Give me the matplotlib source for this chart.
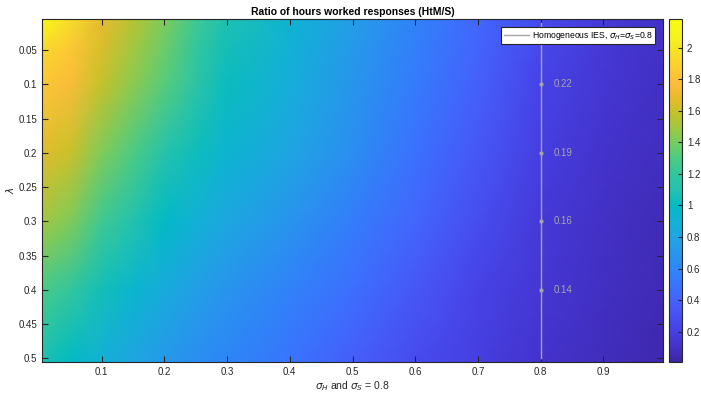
import numpy as np
import matplotlib.pyplot as plt
from matplotlib.colors import LinearSegmentedColormap

plt.rcParams['font.family'] = ['Liberation Sans', 'DejaVu Sans']

sigma_h = [0.005, 0.05, 0.1, 0.15, 0.2, 0.25, 0.3, 0.4, 0.5, 0.6, 0.7, 0.8, 0.9, 0.995]
lambdas = [0.005, 0.05, 0.1, 0.2, 0.3, 0.4, 0.505]
ratio = [
    [2.17, 1.95, 1.69, 1.55, 1.41, 1.24, 1.08, 0.92, 0.75, 0.58, 0.43, 0.26, 0.16, 0.11],
    [1.93, 1.84, 1.64, 1.50, 1.37, 1.20, 1.05, 0.90, 0.72, 0.56, 0.41, 0.24, 0.15, 0.10],
    [1.83, 1.76, 1.58, 1.45, 1.32, 1.16, 1.02, 0.87, 0.70, 0.54, 0.39, 0.22, 0.14, 0.09],
    [1.67, 1.60, 1.42, 1.29, 1.12, 1.03, 0.93, 0.80, 0.65, 0.48, 0.34, 0.19, 0.12, 0.08],
    [1.50, 1.42, 1.24, 1.10, 0.99, 0.90, 0.82, 0.68, 0.55, 0.42, 0.28, 0.16, 0.10, 0.06],
    [1.28, 1.20, 1.05, 0.95, 0.85, 0.76, 0.68, 0.57, 0.47, 0.34, 0.22, 0.14, 0.09, 0.05],
    [1.07, 1.00, 0.90, 0.80, 0.72, 0.65, 0.60, 0.50, 0.38, 0.27, 0.19, 0.12, 0.07, 0.03],
]

# linea IES homogenea en sigma = 0.8
ies_sigma = 0.8
ies_lambda = [0.01, 0.5]
marca_lambda = [0.1, 0.2, 0.3, 0.4]
marca_valor = [0.22, 0.19, 0.16, 0.14]

# parula (aprox.)
parula_pts = [
    (0.2422, 0.1504, 0.6603), (0.2647, 0.1978, 0.7952), (0.2783, 0.2559, 0.8991),
    (0.2810, 0.3228, 0.9579), (0.2699, 0.3892, 0.9906), (0.2206, 0.4603, 0.9973),
    (0.1786, 0.5289, 0.9682), (0.1540, 0.5902, 0.9218), (0.1248, 0.6459, 0.8883),
    (0.0689, 0.6948, 0.8394), (0.0067, 0.7312, 0.7660), (0.1408, 0.7584, 0.6842),
    (0.1938, 0.7758, 0.6251), (0.2906, 0.7973, 0.5188), (0.4456, 0.8024, 0.3909),
    (0.6174, 0.7876, 0.2612), (0.7738, 0.7598, 0.1646), (0.9035, 0.7330, 0.1774),
    (0.9956, 0.7434, 0.2371), (0.9892, 0.8136, 0.1885), (0.9610, 0.8890, 0.1537),
    (0.9691, 0.9606, 0.1064), (0.9769, 0.9839, 0.0805),
]
parula = LinearSegmentedColormap.from_list('parula', parula_pts)

fig = plt.figure(figsize=(7.01, 3.94), dpi=100)
ax = fig.add_axes([0.0599, 0.082, 0.886, 0.869])
cax = fig.add_axes([0.9544, 0.082, 0.0185, 0.869])

malla = ax.pcolormesh(sigma_h, lambdas, np.array(ratio), cmap=parula,
                      shading='gouraud', vmin=0.01, vmax=2.18)
ax.set_xlim(0.005, 0.995)
ax.set_ylim(0.505, 0.005)

ax.plot([ies_sigma, ies_sigma], ies_lambda, color='#a6a6a6', lw=1,
        label='Homogeneous IES, $\\sigma_H$=$\\sigma_S$=0.8')
ax.plot([ies_sigma] * len(marca_lambda), marca_lambda, 'o', color='#a6a6a6', ms=2)
for l, v in zip(marca_lambda, marca_valor):
    ax.text(ies_sigma + 0.02, l, f'{v:.2f}', color='#a6a6a6', fontsize=7, va='center')

ax.set_xticks(np.arange(0.1, 0.95, 0.1))
ax.set_xticklabels(['0.1', '0.2', '0.3', '0.4', '0.5', '0.6', '0.7', '0.8', '0.9'])
ax.set_yticks(np.arange(0.05, 0.51, 0.05))
ax.set_yticklabels(['0.05', '0.1', '0.15', '0.2', '0.25', '0.3', '0.35', '0.4', '0.45', '0.5'])
ax.tick_params(direction='in', top=True, right=True, length=4, width=0.8,
               labelsize=7, colors='#262626', labelcolor='#262626')
for s in ax.spines.values():
    s.set_color('#262626')
    s.set_linewidth(0.8)

ax.set_title('Ratio of hours worked responses (HtM/S)', fontsize=7.5, fontweight='bold', pad=3)
ax.set_xlabel('$\\sigma_H$ and $\\sigma_S$ = 0.8', fontsize=7.5, color='#262626', labelpad=2)
ax.set_ylabel('$\\lambda$', fontsize=7.5, color='#262626', labelpad=2)

leg = ax.legend(loc='upper right', fontsize=6.2, fancybox=False, framealpha=1,
                edgecolor='#262626', handlelength=3.0, handletextpad=0.3,
                borderpad=0.3, borderaxespad=0.9)
leg.get_frame().set_linewidth(0.8)

cb = fig.colorbar(malla, cax=cax)
cb.set_ticks(np.arange(0.2, 2.01, 0.2))
cb.set_ticklabels(['0.2', '0.4', '0.6', '0.8', '1', '1.2', '1.4', '1.6', '1.8', '2'])
cax.tick_params(direction='in', length=3, width=0.8, labelsize=7, colors='#262626')
cb.outline.set_edgecolor('#262626')
cb.outline.set_linewidth(0.8)

plt.savefig('out.png', dpi=100)
